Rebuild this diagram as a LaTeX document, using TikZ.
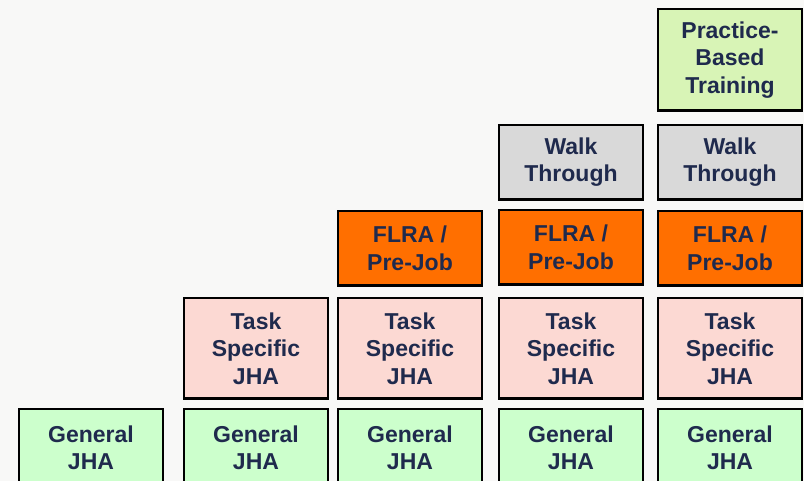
\documentclass[tikz,border=0pt]{standalone}
\usepackage{fontspec}
\setsansfont{Liberation Sans}
\usetikzlibrary{positioning}

\definecolor{pagegray}{HTML}{F8F8F7}
\definecolor{labelnavy}{HTML}{1F2A4D}
\definecolor{jhagreen}{HTML}{CCFFCC}
\definecolor{taskpink}{HTML}{FCD9D3}
\definecolor{flraorange}{HTML}{FF6F00}
\definecolor{walkgray}{HTML}{D9D9D9}
\definecolor{practicelime}{HTML}{D8F4B6}

\begin{document}
\begin{tikzpicture}[x=1pt,y=1pt,node distance=9pt,
    layer box/.style={draw=black,line width=2.4pt,minimum width=143.6pt,inner sep=0pt,align=center,text=labelnavy,font=\sffamily\bfseries\fontsize{23}{27.5}\selectfont},
    general/.style={layer box,fill=jhagreen,minimum height=78pt},
    task/.style={layer box,fill=taskpink,minimum height=100.6pt},
    flra/.style={layer box,fill=flraorange,minimum height=74.6pt},
    walk/.style={layer box,fill=walkgray,minimum height=74.6pt},
    practice/.style={layer box,fill=practicelime,minimum height=101.6pt}]
    \fill[pagegray] (0,0) rectangle (804,481);
    \useasboundingbox (0,0) rectangle (804,481);

    \node[general] (g1) at (91,33) {General\\JHA};
    \node[general] (g2) [right=19pt of g1] {General\\JHA};
    \node[general] (g3) [right=8pt of g2] {General\\JHA};
    \node[general] (g4) [right=15pt of g3] {General\\JHA};
    \node[general] (g5) [right=13pt of g4] {General\\JHA};

    \node[task] (t2) [above=8pt of g2] {Task\\Specific\\JHA};
    \node[task] (t3) [above=8pt of g3] {Task\\Specific\\JHA};
    \node[task] (t4) [above=8pt of g4] {Task\\Specific\\JHA};
    \node[task] (t5) [above=8pt of g5] {Task\\Specific\\JHA};

    \node[flra] (f3) [above=10pt of t3] {FLRA /\\Pre-Job};
    \node[flra] (f4) [above=11pt of t4] {FLRA /\\Pre-Job};
    \node[flra] (f5) [above=10pt of t5] {FLRA /\\Pre-Job};

    \node[walk] (w4) [above=8pt of f4] {Walk\\Through};
    \node[walk] (w5) [above=9pt of f5] {Walk\\Through};

    \node[practice] (p5) [above=12pt of w5] {Practice-\\Based\\Training};
\end{tikzpicture}
\end{document}
